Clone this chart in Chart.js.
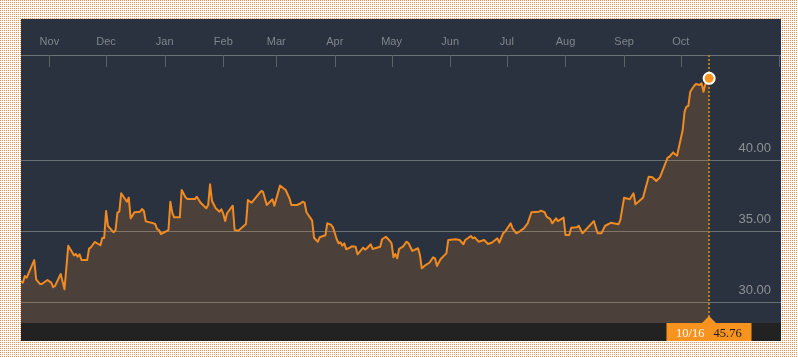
<!DOCTYPE html>
<html><head><meta charset="utf-8">
<script src="https://cdn.jsdelivr.net/npm/chart.js@4"></script>
<style>
html,body{margin:0;padding:0;width:798px;height:357px;overflow:hidden;background:#fff;}
canvas{display:block;}
</style></head><body>
<canvas id="c" width="798" height="357"></canvas>
<script>
const dates = [
"2013-10-17","2013-10-18","2013-10-19","2013-10-20","2013-10-24","2013-10-25","2013-10-27","2013-10-28","2013-10-31",
"2013-11-02","2013-11-03","2013-11-04","2013-11-07","2013-11-09","2013-11-11","2013-11-14","2013-11-15","2013-11-16","2013-11-17","2013-11-18","2013-11-21","2013-11-22","2013-11-23","2013-11-25","2013-11-28","2013-11-29","2013-11-30",
"2013-12-01","2013-12-02","2013-12-05","2013-12-06","2013-12-07","2013-12-08","2013-12-09","2013-12-12","2013-12-13","2013-12-14","2013-12-16","2013-12-19","2013-12-20","2013-12-21","2013-12-22","2013-12-26","2013-12-27","2013-12-28","2013-12-29","2013-12-30",
"2014-01-03","2014-01-04","2014-01-05","2014-01-06","2014-01-09","2014-01-10","2014-01-12","2014-01-13","2014-01-17","2014-01-18","2014-01-20","2014-01-23","2014-01-24","2014-01-25","2014-01-26","2014-01-28","2014-01-30","2014-01-31",
"2014-02-01","2014-02-02","2014-02-03","2014-02-06","2014-02-07","2014-02-09","2014-02-13","2014-02-14","2014-02-16","2014-02-21","2014-02-22","2014-02-24","2014-02-27","2014-02-28",
"2014-03-03","2014-03-06","2014-03-08","2014-03-09","2014-03-12","2014-03-14","2014-03-15","2014-03-16","2014-03-17","2014-03-20","2014-03-21","2014-03-23","2014-03-24","2014-03-27","2014-03-28","2014-03-30","2014-03-31",
"2014-04-02","2014-04-03","2014-04-04","2014-04-05","2014-04-06","2014-04-07","2014-04-09","2014-04-10","2014-04-12","2014-04-13","2014-04-16","2014-04-17","2014-04-18","2014-04-20","2014-04-21","2014-04-25","2014-04-26","2014-04-28","2014-04-30",
"2014-05-01","2014-05-02","2014-05-03","2014-05-04","2014-05-05","2014-05-07","2014-05-09","2014-05-10","2014-05-12","2014-05-15","2014-05-16","2014-05-17","2014-05-19","2014-05-21","2014-05-23","2014-05-24","2014-05-25","2014-05-27","2014-05-30","2014-05-31",
"2014-06-04","2014-06-06","2014-06-08","2014-06-09","2014-06-12","2014-06-13","2014-06-14","2014-06-16","2014-06-19","2014-06-21","2014-06-23","2014-06-26","2014-06-27","2014-06-29","2014-06-30",
"2014-07-03","2014-07-04","2014-07-06","2014-07-08","2014-07-10","2014-07-12","2014-07-14","2014-07-18","2014-07-19","2014-07-21","2014-07-22","2014-07-24","2014-07-25","2014-07-27","2014-07-28","2014-07-31",
"2014-08-01","2014-08-03","2014-08-04","2014-08-07","2014-08-08","2014-08-10","2014-08-16","2014-08-18","2014-08-20","2014-08-22","2014-08-25","2014-08-29","2014-08-30",
"2014-09-01","2014-09-04","2014-09-06","2014-09-07","2014-09-11","2014-09-14","2014-09-16","2014-09-18","2014-09-20","2014-09-24","2014-09-25","2014-09-27","2014-09-28","2014-09-29",
"2014-10-02","2014-10-03","2014-10-04","2014-10-05","2014-10-06","2014-10-08","2014-10-09","2014-10-11","2014-10-12","2014-10-13","2014-10-14","2014-10-15","2014-10-16"
];
const prices = [
31.52,31.40,31.87,31.75,32.99,31.64,31.31,31.31,31.59,
31.40,31.08,31.17,32.01,30.93,34.00,33.32,33.42,33.23,33.39,32.99,32.99,33.79,33.89,34.26,34.03,34.54,34.54,
36.44,35.38,34.94,35.10,36.32,36.39,37.68,37.09,37.37,35.92,36.35,36.39,36.58,36.44,35.71,35.57,35.52,35.17,35.10,34.82,
35.10,37.09,36.32,35.99,35.99,37.91,37.40,37.28,37.28,37.44,37.02,36.63,36.86,38.31,37.16,36.63,36.39,36.56,
36.23,35.73,36.28,36.81,35.10,35.05,35.52,37.21,37.02,37.84,37.79,36.86,37.26,36.81,
38.22,37.91,37.33,36.86,36.86,36.98,37.09,37.02,36.35,35.76,34.56,34.28,34.59,34.73,35.57,35.47,35.29,
34.45,34.17,34.24,34.00,34.17,33.75,33.86,33.96,33.93,33.39,33.86,33.72,33.82,34.10,33.77,33.93,34.45,34.63,34.35,
34.17,33.18,33.42,33.11,33.77,33.93,34.28,34.17,33.63,33.82,33.35,32.41,32.64,32.80,33.18,33.11,32.57,33.06,33.46,34.40,
34.45,34.40,34.10,34.40,34.68,34.52,34.59,34.28,34.40,34.12,34.21,34.52,34.21,34.87,34.98,
35.57,35.22,34.87,35.03,35.22,35.57,36.35,36.39,36.46,36.35,36.04,35.87,35.57,35.92,35.73,35.97,
34.75,34.75,35.26,35.29,35.40,34.87,35.73,34.87,34.87,35.40,35.61,35.50,35.80,
37.37,37.26,37.68,36.91,37.37,38.85,38.81,38.55,38.81,40.18,40.25,40.56,40.42,40.32,
42.13,43.42,43.77,43.82,44.82,45.22,45.36,45.29,45.41,44.82,45.36,45.59,45.76
];
const monthStarts = ["2013-11-01","2013-12-01","2014-01-01","2014-02-01","2014-03-01","2014-04-01","2014-05-01","2014-06-01","2014-07-01","2014-08-01","2014-09-01","2014-10-01"];
const monthLabels = ["Nov","Dec","Jan","Feb","Mar","Apr","May","Jun","Jul","Aug","Sep","Oct"];
const yTicks = [30, 35, 40];

const t0 = Date.parse(dates[0]);
const toDay = s => Math.round((Date.parse(s) - t0) / 864e5);
const days = dates.map(toDay);
const monthDays = monthStarts.map(toDay);
const last = days.length - 1;
const lastDate = dates[last].split("-");
const dateLabel = lastDate[1] + "/" + lastDate[2];
const valLabel = prices[last].toFixed(2);

const deco = {
  id: 'deco',
  beforeDraw(chart) {
    const ctx = chart.ctx, a = chart.chartArea;
    ctx.save();
    ctx.fillStyle = '#ffffff';
    ctx.fillRect(0, 0, chart.width, chart.height);
    ctx.fillStyle = '#ea9350';
    for (let py = 0; py < chart.height; py += 2) {
      for (let px = 0; px < chart.width; px += 2) {
        if (px >= 21 && px < 781 && py >= 19 && py < 341) continue;
        ctx.fillRect(px, py, 1, 1);
      }
    }
    ctx.fillStyle = '#29323e';
    ctx.fillRect(21, 19, 760, 322);
    ctx.fillStyle = '#222222';
    ctx.fillRect(21, a.bottom, 760, 341 - a.bottom);
    ctx.restore();
  },
  beforeDatasetsDraw(chart) {
    const ctx = chart.ctx, a = chart.chartArea, x = chart.scales.x;
    ctx.save();
    ctx.strokeStyle = '#6b7177'; ctx.lineWidth = 1;
    ctx.beginPath(); ctx.moveTo(a.left, a.top + 0.5); ctx.lineTo(a.right, a.top + 0.5); ctx.stroke();
    ctx.strokeStyle = '#5a6169';
    const tx = monthDays.map(d => Math.round(x.getPixelForValue(d)) + 0.5);
    tx.push(Math.round(a.right) - 1.5);
    ctx.beginPath();
    tx.forEach(px => { ctx.moveTo(px, a.top); ctx.lineTo(px, a.top + 12); });
    ctx.stroke();
    ctx.fillStyle = '#80868c';
    ctx.font = '11px "Liberation Sans", Arial, sans-serif';
    ctx.textAlign = 'center'; ctx.textBaseline = 'middle';
    monthDays.forEach((d, i) => ctx.fillText(monthLabels[i], x.getPixelForValue(d), a.top - 13.5));
    const lx = Math.round(x.getPixelForValue(days[last]));
    ctx.strokeStyle = '#ad7e1e'; ctx.lineWidth = 2; ctx.setLineDash([2, 2]);
    ctx.beginPath(); ctx.moveTo(lx, a.top); ctx.lineTo(lx, a.bottom); ctx.stroke();
    ctx.restore();
  },
  afterDraw(chart) {
    const ctx = chart.ctx, a = chart.chartArea, x = chart.scales.x, y = chart.scales.y;
    ctx.save();
    ctx.font = '13px "Liberation Sans", Arial, sans-serif';
    ctx.fillStyle = '#8e9297'; ctx.textAlign = 'right'; ctx.textBaseline = 'middle';
    yTicks.forEach(v => ctx.fillText(v.toFixed(2), a.right - 10, y.getPixelForValue(v) - 12));
    const lx = Math.round(x.getPixelForValue(days[last]));
    const top = a.bottom, h = 341 - a.bottom;
    ctx.fillStyle = '#f7931e';
    ctx.fillRect(lx - 42.5, top, 85, h);
    ctx.beginPath(); ctx.moveTo(lx - 7.5, top + 0.5); ctx.lineTo(lx, top - 7); ctx.lineTo(lx + 7.5, top + 0.5); ctx.closePath(); ctx.fill();
    ctx.font = '12.5px "Liberation Serif", "Times New Roman", serif';
    ctx.textBaseline = 'alphabetic';
    ctx.fillStyle = '#ffffff'; ctx.textAlign = 'right'; ctx.fillText(dateLabel, lx - 4.5, top + 14);
    ctx.fillStyle = '#1b1b1b'; ctx.textAlign = 'left'; ctx.fillText(valLabel, lx + 4.5, top + 14);
    ctx.restore();
  }
};

new Chart(document.getElementById('c'), {
  type: 'line',
  data: {
    datasets: [{
      data: days.map((d, i) => ({ x: d, y: prices[i] })),
      borderColor: '#f28a22',
      borderWidth: 2,
      backgroundColor: 'rgba(242,140,40,0.17)',
      fill: 'start',
      tension: 0,
      borderJoinStyle: 'round',
      pointRadius: c => c.dataIndex === last ? 5.5 : 0,
      pointHoverRadius: 0,
      pointBackgroundColor: '#f7931e',
      pointBorderColor: '#ffffff',
      pointBorderWidth: 2
    }]
  },
  options: {
    responsive: false,
    animation: false,
    devicePixelRatio: 1,
    layout: { padding: { left: 21, right: 17, top: 55, bottom: 34 } },
    plugins: { legend: { display: false }, tooltip: { enabled: false } },
    scales: {
      x: { type: 'linear', display: false, min: 0, max: 402 },
      y: {
        type: 'linear', position: 'right', min: 28.566, max: 47.40,
        afterBuildTicks: s => { s.ticks = yTicks.map(v => ({ value: v })); },
        ticks: { display: false },
        grid: { color: '#6a6f75', lineWidth: 1, drawTicks: false },
        border: { display: false }
      }
    }
  },
  plugins: [deco]
});
</script>
</body></html>
